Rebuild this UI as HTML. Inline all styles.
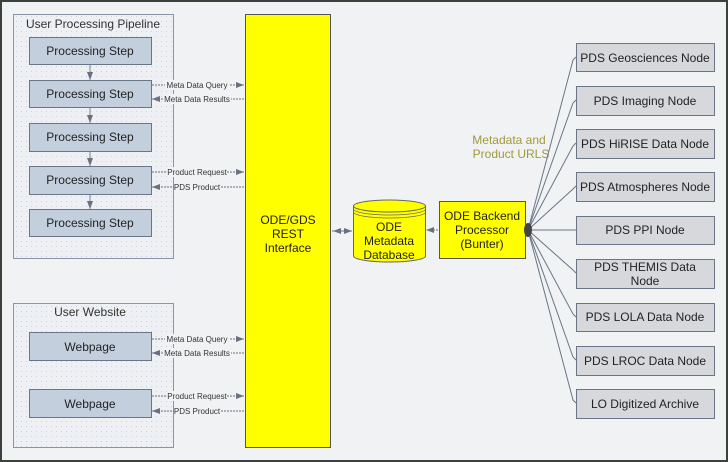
<!DOCTYPE html>
<html><head><style>
html,body{margin:0;padding:0;background:#f0f2f4}
svg{display:block}
text{font-family:"Liberation Sans",sans-serif}
</style></head><body>
<svg width="728" height="462" viewBox="0 0 728 462" xmlns="http://www.w3.org/2000/svg">
<defs>
<pattern id="dots" width="5" height="5" patternUnits="userSpaceOnUse"><rect width="5" height="5" fill="#eef0f3"/><rect x="1" y="1" width="1" height="1" fill="#c8d3e4"/></pattern>
<marker id="ar" markerWidth="8" markerHeight="6" refX="8" refY="3" orient="auto"><path d="M0,0 L8,3 L0,6z" fill="#6a7080"/></marker>
</defs>
<rect x="0" y="0" width="728" height="462" fill="#f0f2f4"/>
<rect x="1" y="1" width="726" height="460" fill="none" stroke="#3c413c" stroke-width="2"/>

<rect x="13.5" y="14.5" width="160" height="244" fill="url(#dots)" stroke="#8a96a6"/>
<text x="93" y="28" font-size="12" text-anchor="middle" fill="#333">User Processing Pipeline</text>
<g fill="#c3cfdd" stroke="#6a7585">
<rect x="29.5" y="37.5" width="122" height="27"/>
<rect x="29.5" y="80.5" width="122" height="27"/>
<rect x="29.5" y="123.5" width="122" height="28"/>
<rect x="29.5" y="166.5" width="122" height="28"/>
<rect x="29.5" y="209.5" width="122" height="27"/>
</g>
<g font-size="12" text-anchor="middle" fill="#222">
<text x="90" y="55">Processing Step</text>
<text x="90" y="98">Processing Step</text>
<text x="90" y="141">Processing Step</text>
<text x="90" y="184">Processing Step</text>
<text x="90" y="227">Processing Step</text>
</g>
<g stroke="#7a8494" marker-end="url(#ar)">
<line x1="90" y1="65" x2="90" y2="80"/>
<line x1="90" y1="108" x2="90" y2="123"/>
<line x1="90" y1="152" x2="90" y2="166"/>
<line x1="90" y1="195" x2="90" y2="209"/>
</g>

<rect x="13.5" y="303.5" width="160" height="144" fill="url(#dots)" stroke="#8a96a6"/>
<text x="90" y="316" font-size="12" text-anchor="middle" fill="#333">User Website</text>
<g fill="#c3cfdd" stroke="#6a7585">
<rect x="29.5" y="332.5" width="122" height="28"/>
<rect x="29.5" y="389.5" width="122" height="28"/>
</g>
<text x="90" y="351" font-size="12" text-anchor="middle" fill="#222">Webpage</text>
<text x="90" y="408" font-size="12" text-anchor="middle" fill="#222">Webpage</text>

<g stroke="#6a7080" stroke-width="1" stroke-dasharray="2,1">
<line x1="152" y1="85" x2="244" y2="85" marker-end="url(#ar)"/>
<line x1="244" y1="99" x2="152" y2="99" marker-end="url(#ar)"/>
<line x1="152" y1="172" x2="244" y2="172" marker-end="url(#ar)"/>
<line x1="244" y1="187" x2="152" y2="187" marker-end="url(#ar)"/>
<line x1="152" y1="339" x2="244" y2="339" marker-end="url(#ar)"/>
<line x1="244" y1="353" x2="152" y2="353" marker-end="url(#ar)"/>
<line x1="152" y1="396" x2="244" y2="396" marker-end="url(#ar)"/>
<line x1="244" y1="411" x2="152" y2="411" marker-end="url(#ar)"/>
</g>
<g font-size="8" fill="#333" text-anchor="middle">
<rect x="165" y="80" width="65" height="10" fill="#f0f2f4"/><text x="197" y="88">Meta Data Query</text>
<rect x="163" y="94" width="68" height="10" fill="#f0f2f4"/><text x="197" y="102">Meta Data Results</text>
<rect x="167" y="167" width="60" height="10" fill="#f0f2f4"/><text x="197" y="175">Product Request</text>
<rect x="174" y="182" width="46" height="10" fill="#f0f2f4"/><text x="197" y="190">PDS Product</text>
<rect x="165" y="334" width="65" height="10" fill="#f0f2f4"/><text x="197" y="342">Meta Data Query</text>
<rect x="163" y="348" width="68" height="10" fill="#f0f2f4"/><text x="197" y="356">Meta Data Results</text>
<rect x="167" y="391" width="60" height="10" fill="#f0f2f4"/><text x="197" y="399">Product Request</text>
<rect x="174" y="406" width="46" height="10" fill="#f0f2f4"/><text x="197" y="414">PDS Product</text>
</g>

<rect x="245.5" y="14.5" width="85" height="433" fill="#ffff00" stroke="#555"/>
<g font-size="12" text-anchor="middle" fill="#222">
<text x="288" y="224">ODE/GDS</text>
<text x="288" y="238">REST</text>
<text x="288" y="252">Interface</text>
</g>

<line x1="332" y1="231" x2="352" y2="231" stroke="#6a7080" marker-end="url(#ar)" stroke-dasharray="2,1"/>
<line x1="352" y1="231" x2="333" y2="231" stroke="#6a7080" marker-end="url(#ar)"/>
<line x1="438" y1="230" x2="426" y2="230" stroke="#6a7080" marker-end="url(#ar)" stroke-dasharray="2,1"/>

<path d="M353.5,206 L353.5,256 A36,6 0 0 0 425.5,256 L425.5,206" fill="#ffff00" stroke="#666"/>
<ellipse cx="389.5" cy="206" rx="36" ry="6" fill="#ffff00" stroke="#666"/>
<path d="M353.5,209 A36,6 0 0 0 425.5,209 M353.5,212 A36,6 0 0 0 425.5,212" fill="none" stroke="#666" stroke-width="0.7"/>
<g font-size="12" text-anchor="middle" fill="#222">
<text x="389" y="231">ODE</text>
<text x="389" y="245">Metadata</text>
<text x="389" y="259">Database</text>
</g>

<rect x="439.5" y="201.5" width="86" height="57" fill="#ffff00" stroke="#555"/>
<g font-size="12" text-anchor="middle" fill="#222">
<text x="482" y="220">ODE Backend</text>
<text x="482" y="234">Processor</text>
<text x="482" y="248">(Bunter)</text>
</g>

<text x="509" y="144" font-size="12" text-anchor="middle" fill="#a09a3c">Metadata and</text>
<text x="511" y="158" font-size="12" text-anchor="middle" fill="#a09a3c">Product URLS</text>

<g stroke="#6a7585" fill="none">
<polyline points="528,230 573,60 576,57"/>
<polyline points="528,230 573,103 576,100"/>
<polyline points="528,230 573,146 576,143"/>
<polyline points="528,230 573,189 576,186"/>
<polyline points="528,230 576,230"/>
<polyline points="528,230 573,270 576,273"/>
<polyline points="528,230 573,314 576,317"/>
<polyline points="528,230 573,357 576,360"/>
<polyline points="528,230 573,400 576,403"/>
</g>
<ellipse cx="528" cy="230" rx="4" ry="7" fill="#444"/>

<g fill="#d6d8dc" stroke="#6a7585">
<rect x="576.5" y="43.5" width="138" height="28"/>
<rect x="576.5" y="86.5" width="138" height="29"/>
<rect x="576.5" y="129.5" width="138" height="29"/>
<rect x="576.5" y="172.5" width="138" height="29"/>
<rect x="576.5" y="216.5" width="138" height="28"/>
<rect x="576.5" y="259.5" width="138" height="29"/>
<rect x="576.5" y="303.5" width="138" height="28"/>
<rect x="576.5" y="346.5" width="138" height="29"/>
<rect x="576.5" y="389.5" width="138" height="29"/>
</g>
<g font-size="12" text-anchor="middle" fill="#222">
<text x="645" y="62">PDS Geosciences Node</text>
<text x="645" y="105">PDS Imaging Node</text>
<text x="645" y="148">PDS HiRISE Data Node</text>
<text x="645" y="191">PDS Atmospheres Node</text>
<text x="645" y="234">PDS PPI Node</text>
<text x="645" y="271">PDS THEMIS Data</text>
<text x="645" y="285">Node</text>
<text x="645" y="321">PDS LOLA Data Node</text>
<text x="645" y="365">PDS LROC Data Node</text>
<text x="645" y="408">LO Digitized Archive</text>
</g>
</svg>
</body></html>
